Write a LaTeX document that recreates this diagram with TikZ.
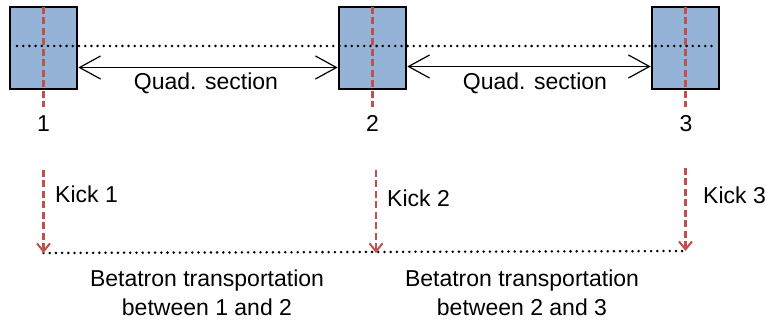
\documentclass[tikz,border=0pt]{standalone}
\usepackage{fontspec}
\setmainfont{Liberation Sans}
\usetikzlibrary{arrows.meta}
\definecolor{boxblue}{HTML}{95B3D7}
\definecolor{kickred}{HTML}{C0504D}
\begin{document}
\begin{tikzpicture}[x=1pt,y=-1pt,
  quadbox/.style={draw=black,line width=2.6pt,fill=boxblue,minimum width=67pt,minimum height=82pt,inner sep=0pt},
  redline/.style={draw=kickred,line width=2.5pt,dash pattern=on 7pt off 3.5pt},
  kickarrow/.style={redline,-{Straight Barb[length=8pt,width=13pt,line width=2pt]}},
  dotline/.style={line width=2.8pt,line cap=round,dash pattern=on 0pt off 6.2pt},
  qarrow/.style={line width=1.2pt,{Straight Barb[length=21pt,width=23pt,line width=1.2pt]}-{Straight Barb[length=21pt,width=23pt,line width=1.2pt]}},
  lbl/.style={font=\fontsize{23}{28}\selectfont,inner sep=0pt}]
\useasboundingbox (0,0) rectangle (766,323);
% boxes
\node[quadbox] (b1) at (43.5,48) {};
\node[quadbox] (b2) at (372.5,48) {};
\node[quadbox] (b3) at (685.5,48) {};
% top dotted line
\coordinate (t0) at (17,46);
\coordinate (t1) at (715,46);
\draw[dotline] (t0) -- (t1);
% red lines through boxes
\coordinate (r1) at (43.5,107);
\coordinate (r2) at (372.5,107);
\coordinate (r3) at (685.5,107);
\draw[redline] ([yshift=-1pt]b1.north) -- (r1);
\draw[redline] ([yshift=-1pt]b2.north) -- (r2);
\draw[redline] ([yshift=-1pt]b3.north) -- (r3);
% quad section arrows
\draw[qarrow] ([yshift=-19.5pt]b1.east) -- ([yshift=-19.5pt]b2.west);
\draw[qarrow] ([yshift=-18.5pt]b2.east) -- ([yshift=-18.5pt]b3.west);
\node[lbl,anchor=base] (q1) at (206,90) {Quad. section};
\node[lbl,anchor=base] (q2) at (535,90) {Quad. section};
% numbers
\node[lbl,anchor=base] (n1) at (43.5,132) {1};
\node[lbl,anchor=base] (n2) at (372.5,132) {2};
\node[lbl,anchor=base] (n3) at (686,132) {3};
% kicks
\coordinate (k1s) at (43.5,170);
\coordinate (k1e) at (43.5,253);
\coordinate (k2s) at (376,170);
\coordinate (k2e) at (376,253);
\coordinate (k3s) at (685.5,168);
\coordinate (k3e) at (685.5,251);
\draw[dotline] (k1e) -- (k3e);
\draw[kickarrow] (k1s) -- (k1e);
\draw[kickarrow] (k2s) -- (k2e);
\draw[kickarrow] (k3s) -- (k3e);
\node[lbl,anchor=base west] (kk1) at (55,203) {Kick 1};
\node[lbl,anchor=base west] (kk2) at (387,207) {Kick 2};
\node[lbl,anchor=base west] (kk3) at (703,204) {Kick 3};
% betatron labels
\node[lbl,anchor=base] (bt1a) at (207,287) {Betatron transportation};
\node[lbl,anchor=base] (bt1b) at (207,315) {between 1 and 2};
\node[lbl,anchor=base] (bt2a) at (522,287) {Betatron transportation};
\node[lbl,anchor=base] (bt2b) at (522,315) {between 2 and 3};
\end{tikzpicture}
\end{document}
